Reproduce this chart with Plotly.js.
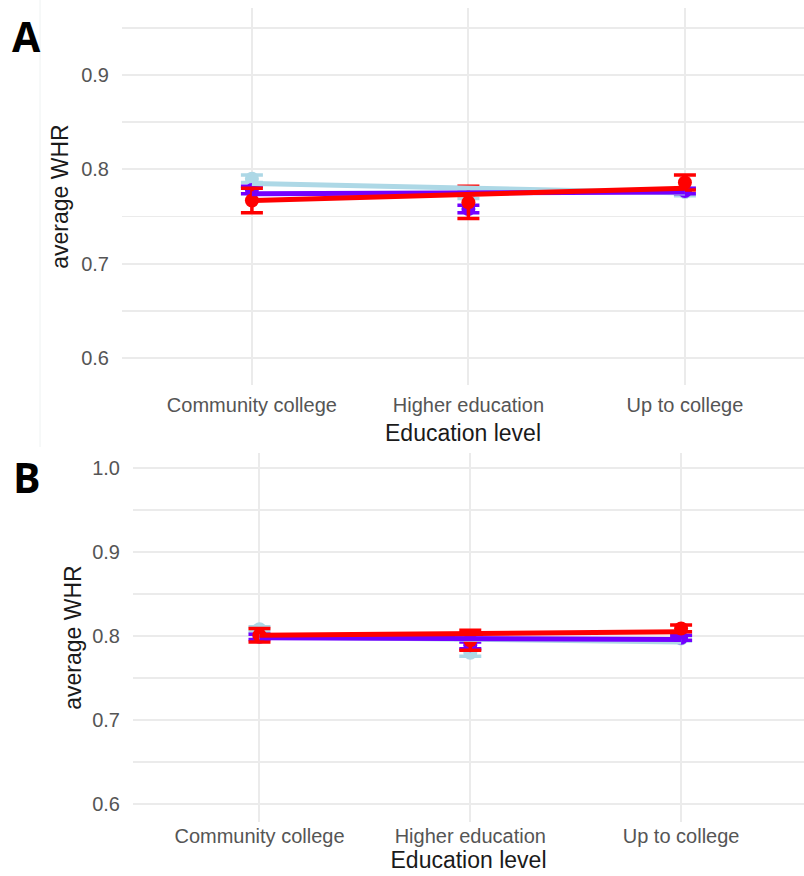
<!DOCTYPE html>
<html>
<head>
<meta charset="utf-8">
<script src="https://cdn.plot.ly/plotly-3.0.1.min.js"></script>
<style>html,body{margin:0;padding:0;background:#fff;}#chart{width:804px;height:876px;}</style>
</head>
<body>
<div id="chart"></div>
<script>
// ---- data ----
const categories = ["Community college", "Higher education", "Up to college"];

// Panel A: point means, error half-widths, fitted line values
const aLightblueMean = [0.790, 0.773, 0.776];
const aLightblueErr  = [0.004, 0.004, 0.004];
const aPurpleMean    = [0.778, 0.758, 0.777];
const aPurpleErr     = [0.004, 0.004, 0.003];
const aRedMean       = [0.767, 0.765, 0.786];
const aRedErr        = [0.013, 0.017, 0.008];
const aLightblueFit  = [0.785, 0.780, 0.775];
const aPurpleFit     = [0.774, 0.775, 0.776];
const aRedFit        = [0.767, 0.773, 0.780];

// Panel B
const bLightblueMean = [0.808, 0.780, 0.797];
const bLightblueErr  = [0.003, 0.004, 0.003];
const bPurpleMean    = [0.799, 0.789, 0.798];
const bPurpleErr     = [0.003, 0.004, 0.003];
const bRedMean       = [0.801, 0.795, 0.809];
const bRedErr        = [0.008, 0.012, 0.004];
const bLightblueFit  = [0.799, 0.796, 0.793];
const bPurpleFit     = [0.798, 0.797, 0.796];
const bRedFit        = [0.801, 0.803, 0.805];

const colLightblue = "#ADD8E6";
const colPurple = "#7300FF";
const colRed = "#FF0000";

function pts(y, err, color, xa, ya) {
  return {x: categories, y: y, xaxis: xa, yaxis: ya, type: "scatter", mode: "markers",
    marker: {color: color, size: 14},
    error_y: {type: "data", array: err, visible: true, color: color, thickness: 3.5, width: 11},
    showlegend: false, hoverinfo: "skip"};
}
function fit(y, color, xa, ya) {
  return {x: categories, y: y, xaxis: xa, yaxis: ya, type: "scatter", mode: "lines",
    line: {color: color, width: 5}, showlegend: false, hoverinfo: "skip"};
}

const traces = [
  pts(aLightblueMean, aLightblueErr, colLightblue, "x", "y"),
  pts(aPurpleMean, aPurpleErr, colPurple, "x", "y"),
  pts(aRedMean, aRedErr, colRed, "x", "y"),
  fit(aLightblueFit, colLightblue, "x", "y"),
  fit(aPurpleFit, colPurple, "x", "y"),
  fit(aRedFit, colRed, "x", "y"),
  pts(bLightblueMean, bLightblueErr, colLightblue, "x2", "y2"),
  pts(bPurpleMean, bPurpleErr, colPurple, "x2", "y2"),
  pts(bRedMean, bRedErr, colRed, "x2", "y2"),
  fit(bLightblueFit, colLightblue, "x2", "y2"),
  fit(bPurpleFit, colPurple, "x2", "y2"),
  fit(bRedFit, colRed, "x2", "y2")
];

const tickFont = {family: "Liberation Sans, Arial, sans-serif", size: 20, color: "#555555"};
const titleFont = {family: "Liberation Sans, Arial, sans-serif", size: 23, color: "#1a1a1a"};
const grid = "#EBEBEB";

function xax(domain, range, standoff, tl) {
  return {domain: domain, range: range, type: "category", showgrid: true, gridcolor: grid, gridwidth: 2,
    zeroline: false, showline: false, ticks: tl > 0 ? "outside" : "", ticklen: tl, tickcolor: "rgba(0,0,0,0)",
    tickfont: tickFont, title: {text: "Education level", font: titleFont, standoff: standoff}, automargin: false, fixedrange: true};
}
function yax(domain, range, standoff) {
  return {domain: domain, range: range, tickmode: "linear", tick0: 0, dtick: 0.1, tickformat: ".1f",
    showgrid: true, gridcolor: grid, gridwidth: 2,
    minor: {tickmode: "linear", tick0: 0.05, dtick: 0.1, showgrid: true, gridcolor: grid, gridwidth: 1.5},
    zeroline: false, showline: false, ticks: "outside", ticklen: 8, tickcolor: "rgba(0,0,0,0)",
    tickfont: tickFont, title: {text: "average WHR", font: titleFont, standoff: standoff}, automargin: false, fixedrange: true};
}

const layout = {
  width: 804, height: 876,
  margin: {l: 0, r: 0, t: 0, b: 0},
  paper_bgcolor: "#ffffff", plot_bgcolor: "#ffffff",
  showlegend: false,
  xaxis: xax([122/804, 1], [-0.6, 2.55], 9, 2),
  yaxis: yax([1 - 385/876, 1 - 8/876], [0.5714, 0.9710], 6),
  xaxis2: Object.assign(xax([133/804, 1], [-0.6, 2.583], 5, 0), {anchor: "y2"}),
  yaxis2: Object.assign(yax([1 - 822/876, 1 - 453/876], [0.5786, 1.0179], 4), {anchor: "x2"}),
  shapes: [
    {type: "line", xref: "paper", yref: "paper", x0: 40/804, x1: 40/804, y0: 1 - 447/876, y1: 1,
     line: {color: "#EEF2F2", width: 1}}
  ],
  annotations: [
    {text: "<b>A</b>", xref: "paper", yref: "paper", x: 26/804, y: 1 - 36/876, xanchor: "center", yanchor: "middle",
     showarrow: false, font: {family: "Open Sans, DejaVu Sans, sans-serif", size: 41, color: "#000"}},
    {text: "<b>B</b>", xref: "paper", yref: "paper", x: 27/804, y: 1 - 477/876, xanchor: "center", yanchor: "middle",
     showarrow: false, font: {family: "Open Sans, DejaVu Sans, sans-serif", size: 41, color: "#000"}}
  ]
};

Plotly.newPlot("chart", traces, layout, {displayModeBar: false, staticPlot: true});
</script>
</body>
</html>
